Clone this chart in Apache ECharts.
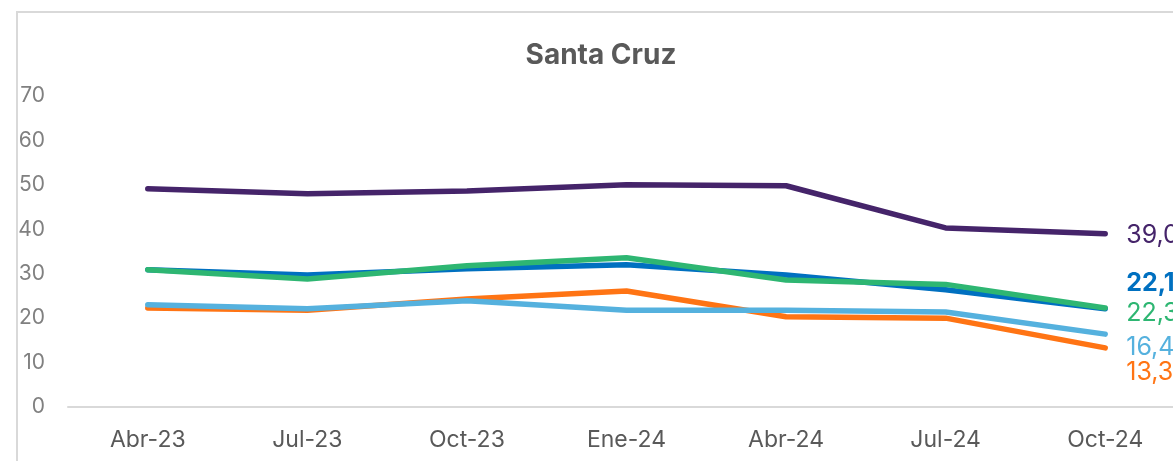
<!DOCTYPE html>
<html>
<head>
<meta charset="utf-8">
<script src="https://cdn.jsdelivr.net/npm/echarts@6/dist/echarts.min.js"></script>
<style>
    html, body { margin: 0; padding: 0; background: #fff; overflow: hidden; }
    #box {
        position: absolute; left: 16px; top: 11px;
        width: 1170px; height: 520px;
        border: 2px solid #d9d9d9; box-sizing: border-box;
    }
    #main { width: 1166px; height: 516px; }
</style>
</head>
<body>
<div id="box"><div id="main"></div></div>
<script>
var categories = ['Abr-23', 'Jul-23', 'Oct-23', 'Ene-24', 'Abr-24', 'Jul-24', 'Oct-24'];

var serieMorada = [49.1, 48.0, 48.6, 50.0, 49.8, 40.3, 39.0];
var serieAzul = [30.9, 29.7, 31.1, 32.0, 29.7, 26.4, 22.1];
var serieVerde = [30.9, 28.8, 31.8, 33.6, 28.6, 27.6, 22.3];
var serieNaranja = [22.3, 21.8, 24.3, 26.1, 20.3, 20.0, 13.3];
var serieCeleste = [23.0, 22.1, 23.9, 21.8, 21.8, 21.4, 16.4];

var font = 'Inter, "Noto Sans", sans-serif';

function buildSerie(name, values, color, dy, bold) {
    return {
        name: name,
        type: 'line',
        symbol: 'none',
        lineStyle: { color: color, width: 5.5, cap: 'round', join: 'round' },
        itemStyle: { color: color },
        endLabel: {
            show: true,
            distance: 21,
            offset: [0, dy],
            color: color,
            fontFamily: font,
            fontSize: 25,
            fontWeight: bold ? 'bold' : 'normal',
            formatter: function(p) {
                return p.value.toFixed(1).replace('.', ',');
            }
        },
        data: values
    };
}

var myChart = echarts.init(document.getElementById('main'));
var option = {
    animation: false,
    title: {
        text: 'Santa Cruz',
        left: 'center',
        top: 24,
        textStyle: { color: '#595959', fontFamily: font, fontSize: 28, fontWeight: 'bold' }
    },
    grid: { left: 50, right: -1, top: 83, bottom: 122, outerBoundsMode: 'none' },
    xAxis: {
        type: 'category',
        data: categories,
        boundaryGap: true,
        axisLine: { lineStyle: { color: '#d9d9d9', width: 2 } },
        axisTick: { show: false },
        axisLabel: { color: '#595959', fontFamily: font, fontSize: 23, margin: 22 }
    },
    yAxis: {
        type: 'value',
        min: 0,
        max: 70,
        interval: 10,
        splitLine: { show: false },
        axisLine: { show: false },
        axisTick: { show: false },
        axisLabel: { color: '#808080', fontFamily: font, fontSize: 21, margin: 23 }
    },
    series: [
        buildSerie('Morada', serieMorada, '#45246a', 2, false),
        buildSerie('Azul', serieAzul, '#0070c0', -25, true),
        buildSerie('Verde', serieVerde, '#2eb672', 6, false),
        buildSerie('Naranja', serieNaranja, '#ff7414', 25, false),
        buildSerie('Celeste', serieCeleste, '#55b1de', 13, false)
    ]
};
myChart.setOption(option);
</script>
</body>
</html>
